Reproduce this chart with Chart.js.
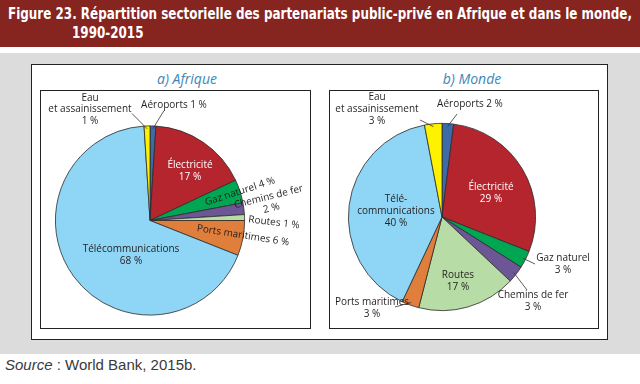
<!DOCTYPE html>
<html>
<head>
<meta charset="utf-8">
<script src="https://cdn.jsdelivr.net/npm/chart.js@4.4.0/dist/chart.umd.min.js"></script>
<style>
  body { margin: 0; width: 640px; height: 384px; position: relative; overflow: hidden; background: #fff; font-family: "Open Sans", sans-serif; }
  #head { position: absolute; left: 0; top: 0; width: 640px; height: 47px; background: #862420; color: #fff;
          font-family: "Liberation Sans Narrow", "DejaVu Sans Condensed", sans-serif; font-weight: bold; font-size: 16px; line-height: 16px; }
  .hl { position: absolute; white-space: nowrap; transform-origin: 0 50%; }
  #gray { position: absolute; left: 0; top: 53px; width: 640px; height: 301px; background: #dcdcdc; }
  #outer { position: absolute; left: 31px; top: 64px; width: 577px; height: 276px; background: #fff; border: 1.3px solid #222; box-sizing: border-box; }
  .panel { position: absolute; top: 90px; height: 239px; border: 1.3px solid #222; box-sizing: border-box; pointer-events: none; }
  canvas { position: absolute; top: 90px; }
  .ptitle { position: absolute; top: 69px; font-style: italic; font-size: 14px; color: #3d87b9; white-space: nowrap; transform: translateX(-50%); }
  #src { position: absolute; left: 5px; top: 356px; font-family: "Liberation Sans", Arial, sans-serif; font-size: 15px; color: #3a3a3a; }
</style>
</head>
<body>
<div id="head">
  <div class="hl" id="h1" style="left:8px;top:6px">Figure 23. Répartition sectorielle des partenariats public-privé en Afrique et dans le monde,</div>
  <div class="hl" id="h2" style="left:72px;top:25px">1990-2015</div>
</div>
<div id="gray"></div>
<div id="outer"></div>
<div class="ptitle" style="left:187px">a) Afrique</div>
<div class="ptitle" style="left:472px">b) Monde</div>
<canvas id="afrique" width="271" height="239" style="left:40px"></canvas>
<canvas id="monde" width="270" height="239" style="left:329px"></canvas>
<div class="panel" style="left:40px;width:271px"></div>
<div class="panel" style="left:329px;width:270px"></div>
<div id="src"><i>Source</i> : World Bank, 2015b.</div>

<script>
const categories = ["Aéroports", "Électricité", "Gaz naturel", "Chemins de fer", "Routes", "Ports maritimes", "Télécommunications", "Eau et assainissement"];
const afriqueValues = [1, 17, 4, 2, 1, 6, 68, 1];
const mondeValues = [2, 29, 3, 3, 17, 3, 40, 3];
const sliceColors = ["#3e6aa6", "#b5252e", "#00a651", "#6d5696", "#b7dca6", "#e07e3b", "#8ed5f6", "#fff200"];

// label placement, offsets from the pie centre (px)
const afriqueLabels = [
  { lines: ["Aéroports {v} %"], dx: 24, dy: -115, lead: [14, -110] },
  { lines: ["Électricité", "{v} %"], dx: 40, dy: -49, color: "#fff" },
  { lines: ["Gaz naturel {v} %"], dx: 90, dy: -29, rot: -18 },
  { lines: ["Chemins de fer", "{v} %"], dx: 120, dy: -18, rot: -14 },
  { lines: ["Routes {v} %"], dx: 124, dy: 2, rot: 7 },
  { lines: ["Ports maritimes {v} %"], dx: 93, dy: 15, rot: 9 },
  { lines: ["Télécommunications", "{v} %"], dx: -19, dy: 35 },
  { lines: ["Eau", "et assainissement", "{v} %"], dx: -60, dy: -111, lead: [-18, -107] }
];
const mondeLabels = [
  { lines: ["Aéroports {v} %"], dx: 28, dy: -113, lead: [15, -103] },
  { lines: ["Électricité", "{v} %"], dx: 49, dy: -24, color: "#fff" },
  { lines: ["Gaz naturel", "{v} %"], dx: 121, dy: 47, lead: [93, 47] },
  { lines: ["Chemins de fer", "{v} %"], dx: 91, dy: 84, lead: [85, 73] },
  { lines: ["Routes", "{v} %"], dx: 16, dy: 64 },
  { lines: ["Ports maritimes", "{v} %"], dx: -70, dy: 91, lead: [-47, 90] },
  { lines: ["Télé-", "communications", "{v} %"], dx: -46, dy: -6 },
  { lines: ["Eau", "et assainissement", "{v} %"], dx: -65, dy: -108, lead: [-22, -97] }
];

const pieLabels = {
  id: "pieLabels",
  afterDatasetsDraw(chart, args, opts) {
    const ctx = chart.ctx;
    const arcs = chart.getDatasetMeta(0).data;
    const values = chart.data.datasets[0].data;
    const lh = 11.7;
    ctx.save();
    ctx.font = '10px "Open Sans"';
    ctx.textAlign = "center";
    ctx.textBaseline = "middle";
    opts.specs.forEach((s, i) => {
      const a = arcs[i];
      const cx = a.x, cy = a.y;
      if (s.lead) {
        const mid = (a.startAngle + a.endAngle) / 2;
        const r = a.outerRadius * 0.97;
        ctx.beginPath();
        ctx.moveTo(cx + r * Math.cos(mid), cy + r * Math.sin(mid));
        ctx.lineTo(cx + s.lead[0], cy + s.lead[1]);
        ctx.strokeStyle = "#333";
        ctx.lineWidth = 0.8;
        ctx.stroke();
      }
      ctx.save();
      ctx.translate(cx + s.dx, cy + s.dy);
      if (s.rot) ctx.rotate(s.rot * Math.PI / 180);
      ctx.fillStyle = s.color || "#231f20";
      const n = s.lines.length;
      s.lines.forEach((t, k) => {
        ctx.fillText(t.replace("{v}", values[i]), 0, (k - (n - 1) / 2) * lh);
      });
      ctx.restore();
    });
    ctx.restore();
  }
};

function makePie(id, values, specs, pad) {
  new Chart(document.getElementById(id), {
    type: "pie",
    data: {
      labels: categories,
      datasets: [{
        data: values,
        backgroundColor: sliceColors,
        borderColor: "#2b2b2b",
        borderWidth: 0.8,
        hoverOffset: 0
      }]
    },
    options: {
      responsive: false,
      animation: false,
      events: [],
      layout: { padding: pad },
      plugins: {
        legend: { display: false },
        tooltip: { enabled: false },
        pieLabels: { specs: specs }
      }
    },
    plugins: [pieLabels]
  });
}

makePie("afrique", afriqueValues, afriqueLabels, { left: 15, top: 35.5, right: 66, bottom: 13.5 });
makePie("monde", mondeValues, mondeLabels, { left: 19, top: 33, right: 63, bottom: 18 });

// fit the condensed header title to the width used in the figure
const h1 = document.getElementById("h1"), h2 = document.getElementById("h2");
const k = 624 / h1.getBoundingClientRect().width;
h1.style.transform = "scaleX(" + k + ")";
h2.style.transform = "scaleX(" + k + ")";
</script>
</body>
</html>
